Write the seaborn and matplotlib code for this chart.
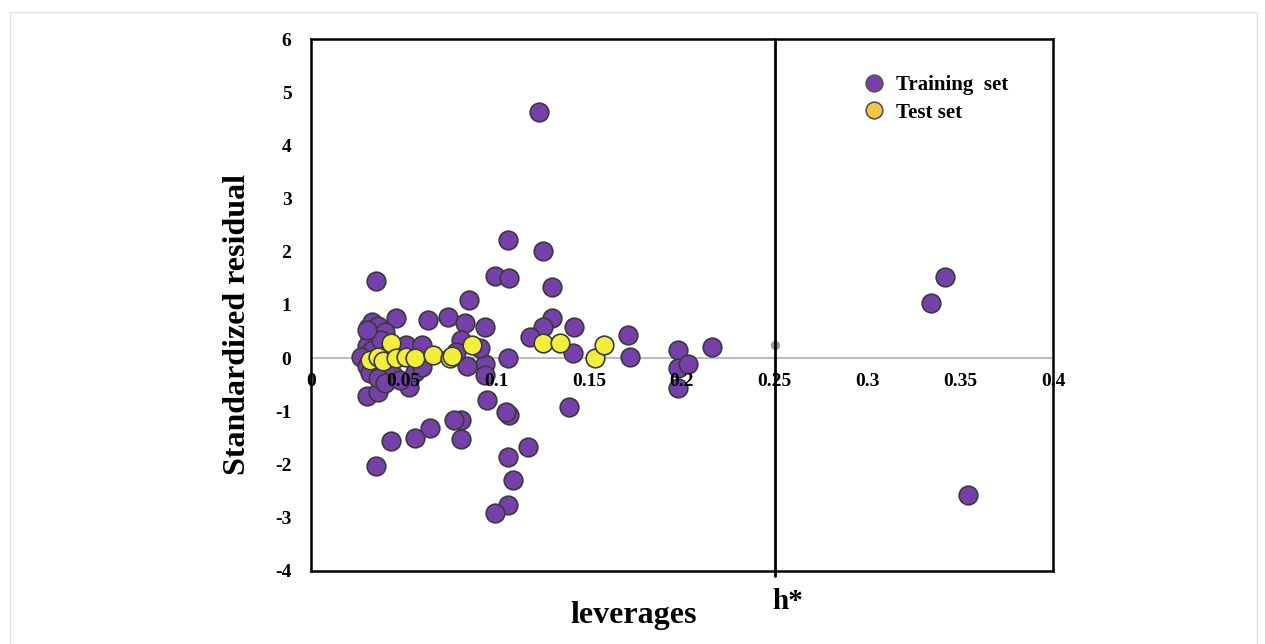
"""
Williams plot: standardized residuals vs leverages for training and test sets.
"""

import numpy as np
import pandas as pd
import matplotlib
matplotlib.use('Agg')
import matplotlib.pyplot as plt
import seaborn as sns
from matplotlib.lines import Line2D
from matplotlib.patches import Rectangle

# Training set (leverage, standardized residual)
train_leverage = [
    0.123, 0.106, 0.125, 0.099, 0.107, 0.130, 0.035, 0.085, 0.130, 0.125,
    0.118, 0.142, 0.141, 0.171, 0.172, 0.198, 0.198, 0.203, 0.198, 0.216,
    0.334, 0.342, 0.354, 0.139, 0.117, 0.106, 0.109, 0.106, 0.099, 0.107,
    0.105, 0.095, 0.081, 0.081, 0.077, 0.064, 0.056, 0.043, 0.035, 0.030,
    0.036, 0.053, 0.046, 0.063, 0.074, 0.083, 0.094, 0.106, 0.094, 0.084,
    0.091, 0.081, 0.078, 0.059, 0.051, 0.060, 0.056, 0.060, 0.044, 0.031,
    0.033, 0.036, 0.040, 0.032, 0.030, 0.033, 0.027, 0.030, 0.032, 0.036,
    0.040, 0.048, 0.038, 0.042, 0.030, 0.094,
]
train_residual = [
    4.62, 2.22, 2.01, 1.54, 1.50, 1.33, 1.45, 1.09, 0.75, 0.58,
    0.40, 0.58, 0.10, 0.43, 0.02, 0.15, -0.19, -0.10, -0.56, 0.21,
    1.03, 1.52, -2.58, -0.92, -1.67, -1.86, -2.29, -2.76, -2.91, -1.07,
    -1.02, -0.79, -1.52, -1.17, -1.17, -1.32, -1.50, -1.56, -2.03, -0.71,
    -0.64, -0.55, 0.75, 0.71, 0.77, 0.66, 0.58, 0.00, -0.11, -0.15,
    0.19, 0.34, 0.11, 0.15, 0.24, 0.24, -0.26, -0.17, -0.32, 0.56,
    0.68, 0.60, 0.49, 0.38, 0.23, 0.15, 0.02, -0.15, -0.28, -0.38,
    -0.47, -0.41, 0.34, 0.11, 0.53, -0.32,
]

# Test set
test_leverage = [
    0.032, 0.036, 0.039, 0.043, 0.046, 0.051, 0.056, 0.066, 0.075, 0.076,
    0.087, 0.125, 0.134, 0.153, 0.158,
]
test_residual = [
    -0.04, 0.02, -0.06, 0.28, 0.00, 0.02, 0.00, 0.06, 0.00, 0.04,
    0.24, 0.28, 0.28, 0.00, 0.24,
]

h_star = 0.25
h_star_point = 0.24
x_ticks = [0, 0.05, 0.1, 0.15, 0.2, 0.25, 0.3, 0.35, 0.4]
x_tick_labels = ['0', '0.05', '0.1', '0.15', '0.2', '0.25', '0.3', '0.35', '0.4']
y_ticks = [-4, -3, -2, -1, 0, 1, 2, 3, 4, 5, 6]

PURPLE = '#7640aa'
YELLOW = '#f2ef3a'
GOLD = '#f2c744'
EDGE = '#3a3a3a'

sns.set_style('white')
plt.rcParams['font.family'] = ['Liberation Serif', 'DejaVu Serif']
plt.rcParams['font.weight'] = 'bold'
plt.rcParams['text.color'] = 'black'
plt.rcParams['axes.labelcolor'] = 'black'
plt.rcParams['ytick.color'] = 'black'

train_df = pd.DataFrame({'leverage': train_leverage, 'residual': train_residual})
test_df = pd.DataFrame({'leverage': test_leverage, 'residual': test_residual})

fig = plt.figure(figsize=(12.65, 6.44), dpi=100)
ax = fig.add_axes([0.2458, 0.1134, 0.5866, 0.826])

# faint page border
fig.patches.append(Rectangle((10 / 1265, -0.01), 1247 / 1265, 1 - 12 / 644 + 0.01,
                             transform=fig.transFigure, fill=False,
                             edgecolor='#e2e2e2', linewidth=1.0))

ax.axhline(0, color='#bdbdbd', linewidth=1.5, zorder=1)

sns.scatterplot(data=train_df, x='leverage', y='residual', ax=ax, s=180,
                color=PURPLE, edgecolor=EDGE, linewidth=1.2, zorder=3, legend=False)
sns.scatterplot(data=test_df, x='leverage', y='residual', ax=ax, s=180,
                color=YELLOW, edgecolor=EDGE, linewidth=1.2, zorder=4, legend=False)

ax.scatter([h_star], [h_star_point], s=45, color='#9a9a9a', zorder=2, linewidths=0)
ax.axvline(h_star, ymin=-0.01, ymax=1, color='black', linewidth=2, zorder=5, clip_on=False)

ax.set_xlim(0, 0.4)
ax.set_ylim(-4, 6)
ax.set_yticks(y_ticks)
ax.set_yticklabels([str(t) for t in y_ticks], fontsize=14, fontweight='bold')
ax.set_xticks([])
ax.tick_params(axis='y', length=0, pad=14)

# Excel-style x labels sitting under the zero line
for xt, lab in zip(x_ticks, x_tick_labels):
    ax.annotate(lab, xy=(xt, 0), xytext=(0, -16.5), textcoords='offset points',
                ha='center', va='center', fontsize=14, fontweight='bold', zorder=6)

for sp in ax.spines.values():
    sp.set_color('black')
    sp.set_linewidth(1.8)

ax.set_xlabel('')
ax.set_ylabel('Standardized residual', fontsize=23, fontweight='bold')
ax.yaxis.set_label_coords(-0.079, 0.463)

ax.text(0.435, -0.084, 'leverages', transform=ax.transAxes, ha='center',
        va='center', fontsize=23, fontweight='bold')
ax.text(h_star - 0.0012, -4.58, 'h*', ha='left', va='center',
        fontsize=21, fontweight='bold')

handles = [
    Line2D([], [], linestyle='none', marker='o', markersize=12,
           markerfacecolor=PURPLE, markeredgecolor='#555555', markeredgewidth=1.2),
    Line2D([], [], linestyle='none', marker='o', markersize=12,
           markerfacecolor=GOLD, markeredgecolor='#555555', markeredgewidth=1.2),
]
ax.legend(handles, ['Training  set', 'Test set'], loc='upper left',
          bbox_to_anchor=(0.705, 0.968), frameon=False, handletextpad=0.05,
          labelspacing=0.38, prop={'size': 15, 'weight': 'bold'})

fig.savefig('out.png', dpi=100)
